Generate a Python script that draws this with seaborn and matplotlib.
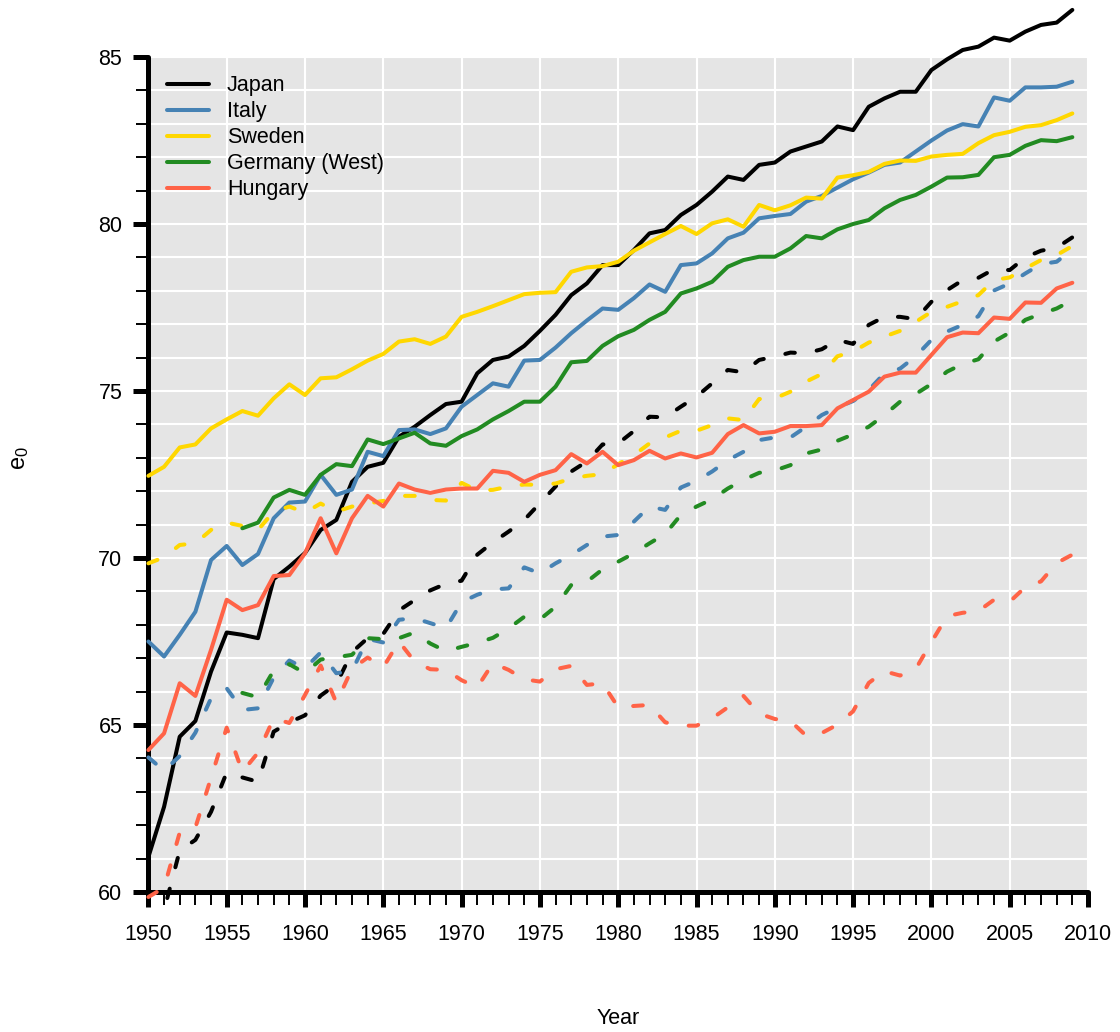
import numpy as np
import pandas as pd
import seaborn as sns
import matplotlib.pyplot as plt
from matplotlib.lines import Line2D
from matplotlib.ticker import MultipleLocator
from matplotlib.transforms import Bbox

years = list(range(1950, 2010))
years_de = list(range(1956, 2010))

# female life expectancy (solid lines)
japan_f = [61.05, 62.55, 64.65, 65.12, 66.6, 67.77, 67.7, 67.6, 69.37, 69.74,
           70.15, 70.84, 71.14, 72.28, 72.73, 72.85, 73.63, 73.93, 74.28, 74.61,
           74.68, 75.53, 75.93, 76.03, 76.35, 76.8, 77.28, 77.87, 78.22, 78.77,
           78.77, 79.22, 79.72, 79.82, 80.27, 80.57, 80.97, 81.42, 81.32, 81.77,
           81.84, 82.17, 82.32, 82.47, 82.92, 82.81, 83.51, 83.76, 83.96, 83.96,
           84.61, 84.93, 85.21, 85.31, 85.58, 85.49, 85.76, 85.96, 86.03, 86.41]
italy_f = [67.5, 67.05, 67.7, 68.39, 69.94, 70.36, 69.79, 70.12, 71.19, 71.66,
           71.69, 72.49, 71.89, 72.05, 73.18, 73.05, 73.83, 73.85, 73.71, 73.88,
           74.53, 74.88, 75.23, 75.13, 75.91, 75.93, 76.3, 76.73, 77.11, 77.47,
           77.43, 77.78, 78.19, 77.97, 78.77, 78.82, 79.12, 79.57, 79.74, 80.17,
           80.24, 80.3, 80.67, 80.84, 81.09, 81.34, 81.54, 81.77, 81.84, 82.17,
           82.5, 82.8, 82.99, 82.92, 83.79, 83.69, 84.09, 84.09, 84.11, 84.26]
sweden_f = [72.46, 72.73, 73.31, 73.4, 73.88, 74.15, 74.4, 74.26, 74.78, 75.2,
            74.88, 75.38, 75.41, 75.65, 75.91, 76.11, 76.48, 76.55, 76.41, 76.63,
            77.22, 77.37, 77.54, 77.72, 77.9, 77.94, 77.96, 78.57, 78.7, 78.74,
            78.87, 79.2, 79.45, 79.7, 79.94, 79.7, 80.02, 80.14, 79.92, 80.57,
            80.41, 80.56, 80.79, 80.76, 81.39, 81.46, 81.56, 81.8, 81.9, 81.89,
            82.02, 82.07, 82.1, 82.42, 82.66, 82.76, 82.91, 82.96, 83.11, 83.31]
germany_f = [70.89, 71.06, 71.81, 72.04,
             71.89, 72.49, 72.81, 72.75, 73.55, 73.41, 73.58, 73.75, 73.43, 73.36,
             73.65, 73.85, 74.15, 74.4, 74.68, 74.68, 75.13, 75.86, 75.9, 76.35,
             76.64, 76.83, 77.13, 77.37, 77.92, 78.07, 78.27, 78.72, 78.92, 79.02,
             79.02, 79.27, 79.64, 79.57, 79.84, 80.0, 80.12, 80.47, 80.72, 80.87,
             81.12, 81.39, 81.4, 81.47, 82.0, 82.07, 82.34, 82.51, 82.48, 82.6]
hungary_f = [64.25, 64.75, 66.25, 65.87, 67.25, 68.75, 68.44, 68.59, 69.46, 69.49,
             70.14, 71.19, 70.14, 71.19, 71.86, 71.54, 72.23, 72.05, 71.95, 72.05,
             72.08, 72.08, 72.61, 72.55, 72.28, 72.49, 72.63, 73.11, 72.83, 73.18,
             72.78, 72.93, 73.21, 72.98, 73.13, 73.01, 73.15, 73.71, 73.98, 73.73,
             73.78, 73.95, 73.95, 73.98, 74.48, 74.73, 74.98, 75.43, 75.55, 75.55,
             76.08, 76.61, 76.75, 76.73, 77.2, 77.16, 77.65, 77.64, 78.07, 78.24]

# male life expectancy (dashed lines)
japan_m = [58.0, 59.45, 61.24, 61.56, 62.4, 63.58, 63.43, 63.3, 64.8, 65.08,
           65.29, 65.88, 66.22, 67.18, 67.6, 67.73, 68.43, 68.74, 69.03, 69.23,
           69.32, 70.1, 70.47, 70.79, 71.14, 71.64, 72.14, 72.59, 72.89, 73.4,
           73.43, 73.8, 74.23, 74.21, 74.53, 74.83, 75.23, 75.63, 75.56, 75.93,
           76.03, 76.15, 76.13, 76.25, 76.53, 76.41, 76.98, 77.22, 77.22, 77.15,
           77.67, 78.02, 78.32, 78.39, 78.65, 78.62, 79.0, 79.2, 79.29, 79.6]
italy_m = [64.03, 63.63, 64.07, 64.77, 65.8, 66.1, 65.45, 65.5, 66.42, 66.93,
           66.7, 67.17, 66.55, 66.62, 67.58, 67.47, 68.15, 68.2, 68.05, 67.9,
           68.68, 68.9, 69.06, 69.09, 69.72, 69.54, 69.84, 70.09, 70.39, 70.64,
           70.69, 71.09, 71.54, 71.44, 72.11, 72.31, 72.59, 72.93, 73.18, 73.53,
           73.61, 73.61, 73.93, 74.28, 74.51, 74.7, 75.03, 75.53, 75.67, 76.04,
           76.53, 76.78, 76.98, 77.24, 78.01, 78.22, 78.52, 78.8, 78.87, 79.24]
sweden_m = [69.84, 70.02, 70.39, 70.44, 70.84, 71.06, 70.96, 70.84, 71.39, 71.54,
            71.36, 71.63, 71.39, 71.54, 71.63, 71.71, 71.86, 71.86, 71.74, 71.72,
            72.25, 72.02, 72.04, 72.14, 72.2, 72.19, 72.23, 72.38, 72.46, 72.51,
            72.81, 73.08, 73.43, 73.61, 73.81, 73.81, 73.98, 74.18, 74.13, 74.76,
            74.78, 74.98, 75.28, 75.51, 76.04, 76.18, 76.45, 76.63, 76.8, 77.07,
            77.37, 77.52, 77.69, 77.87, 78.32, 78.4, 78.67, 78.92, 79.07, 79.34]
germany_m = [65.96, 65.83, 66.63, 66.82,
             66.55, 66.96, 67.03, 67.1, 67.6, 67.57, 67.6, 67.77, 67.44, 67.21,
             67.34, 67.46, 67.61, 67.89, 68.24, 68.16, 68.54, 69.19, 69.29, 69.66,
             69.89, 70.14, 70.44, 70.72, 71.29, 71.54, 71.76, 72.08, 72.34, 72.55,
             72.62, 72.78, 73.13, 73.25, 73.51, 73.7, 73.93, 74.28, 74.68, 74.91,
             75.21, 75.58, 75.81, 75.95, 76.48, 76.75, 77.13, 77.31, 77.47, 77.72]
hungary_m = [59.85, 60.13, 61.78, 61.93, 63.42, 64.92, 63.6, 64.17, 65.2, 65.06,
             65.9, 66.78, 65.67, 66.68, 67.02, 66.73, 67.5, 66.9, 66.67, 66.65,
             66.34, 66.13, 66.85, 66.65, 66.37, 66.3, 66.67, 66.77, 66.2, 66.25,
             65.53, 65.57, 65.6, 65.08, 64.98, 64.98, 65.2, 65.53, 65.87, 65.34,
             65.18, 65.12, 64.68, 64.76, 65.01, 65.41, 66.26, 66.61, 66.48, 66.68,
             67.48, 68.26, 68.36, 68.41, 68.75, 68.69, 69.13, 69.3, 69.85, 70.1]

countries = ['Japan', 'Italy', 'Sweden', 'Germany (West)', 'Hungary']
colors = ['black', 'steelblue', 'gold', 'forestgreen', 'tomato']

series = {
    ('Japan', 'Female'): (years, japan_f), ('Japan', 'Male'): (years, japan_m),
    ('Italy', 'Female'): (years, italy_f), ('Italy', 'Male'): (years, italy_m),
    ('Sweden', 'Female'): (years, sweden_f), ('Sweden', 'Male'): (years, sweden_m),
    ('Germany (West)', 'Female'): (years_de, germany_f),
    ('Germany (West)', 'Male'): (years_de, germany_m),
    ('Hungary', 'Female'): (years, hungary_f), ('Hungary', 'Male'): (years, hungary_m),
}
frames = []
for (c, s), (yr, vals) in series.items():
    frames.append(pd.DataFrame({'Year': yr, 'e0': vals, 'country': c, 'sex': s}))
df = pd.concat(frames, ignore_index=True)

sns.set_theme(style='darkgrid', rc={'axes.facecolor': '#E5E5E5', 'grid.color': 'white',
                                    'text.color': 'black'})
plt.rcParams['font.family'] = ['Liberation Sans', 'DejaVu Sans']
plt.rcParams['mathtext.fontset'] = 'custom'
plt.rcParams['mathtext.rm'] = 'Liberation Sans'
plt.rcParams['mathtext.default'] = 'regular'

fig = plt.figure(figsize=(11.2, 10.32), dpi=100)
ax = fig.add_axes([148.4 / 1120, 140 / 1032, 939.6 / 1120, 835 / 1032])

sns.lineplot(data=df, x='Year', y='e0', hue='country', style='sex',
             hue_order=countries, palette=dict(zip(countries, colors)),
             style_order=['Female', 'Male'],
             dashes={'Female': '', 'Male': (2.4, 5.5)},
             linewidth=2.9, dash_capstyle='round', solid_capstyle='round',
             solid_joinstyle='round', dash_joinstyle='round',
             legend=False, ax=ax, zorder=3)

# lines may run past the panel (top and a little below), like the original
clip = Bbox([[0, 1032 - 914], [1120, 1032]])
for ln in ax.lines:
    ln.set_clip_on(True)
    ln.set_clip_path(None)
    ln.set_clip_box(clip)

ax.set_xlim(1950, 2010)
ax.set_ylim(60, 85)
ax.xaxis.set_major_locator(MultipleLocator(5))
ax.xaxis.set_minor_locator(MultipleLocator(1))
ax.yaxis.set_major_locator(MultipleLocator(5))
ax.yaxis.set_minor_locator(MultipleLocator(1))

ax.grid(False)
ax.grid(True, which='major', axis='x', color='white', linewidth=1.5)
ax.grid(True, which='both', axis='y', color='white', linewidth=1.5)
ax.set_axisbelow(True)

for side in ['top', 'right']:
    ax.spines[side].set_visible(False)
for side in ['left', 'bottom']:
    ax.spines[side].set_visible(True)
    ax.spines[side].set_color('black')
    ax.spines[side].set_linewidth(3.6)
    ax.spines[side].set_capstyle('round')

ax.tick_params(axis='both', which='major', direction='out', length=10.8, width=3.6,
               color='black', labelsize=15.5, labelcolor='black')
ax.tick_params(axis='both', which='minor', direction='out', length=9, width=1.4,
               color='black')
ax.tick_params(axis='x', which='major', pad=12)
ax.tick_params(axis='y', which='major', pad=8)
ax.tick_params(left=True, bottom=True, which='both')

ax.set_xlabel('')
ax.set_ylabel('')
fig.text(618 / 1120, 1 - 1019 / 1032, 'Year', ha='center', va='center',
         fontsize=15.5, color='black')
fig.text(20 / 1120, 1 - 458 / 1032, r'e$_0$', ha='center', va='center',
         rotation=90, fontsize=17, color='black')

handles = [Line2D([0], [0], color=c, linewidth=2.9, solid_capstyle='round')
           for c in colors]
ax.legend(handles, countries, loc='upper left', bbox_to_anchor=(0.0198, 0.978),
          frameon=False, fontsize=15.5, handlelength=1.95, handletextpad=0.84,
          labelspacing=0.23, borderpad=0, borderaxespad=0, labelcolor='black')

fig.savefig('out.png', dpi=100)
